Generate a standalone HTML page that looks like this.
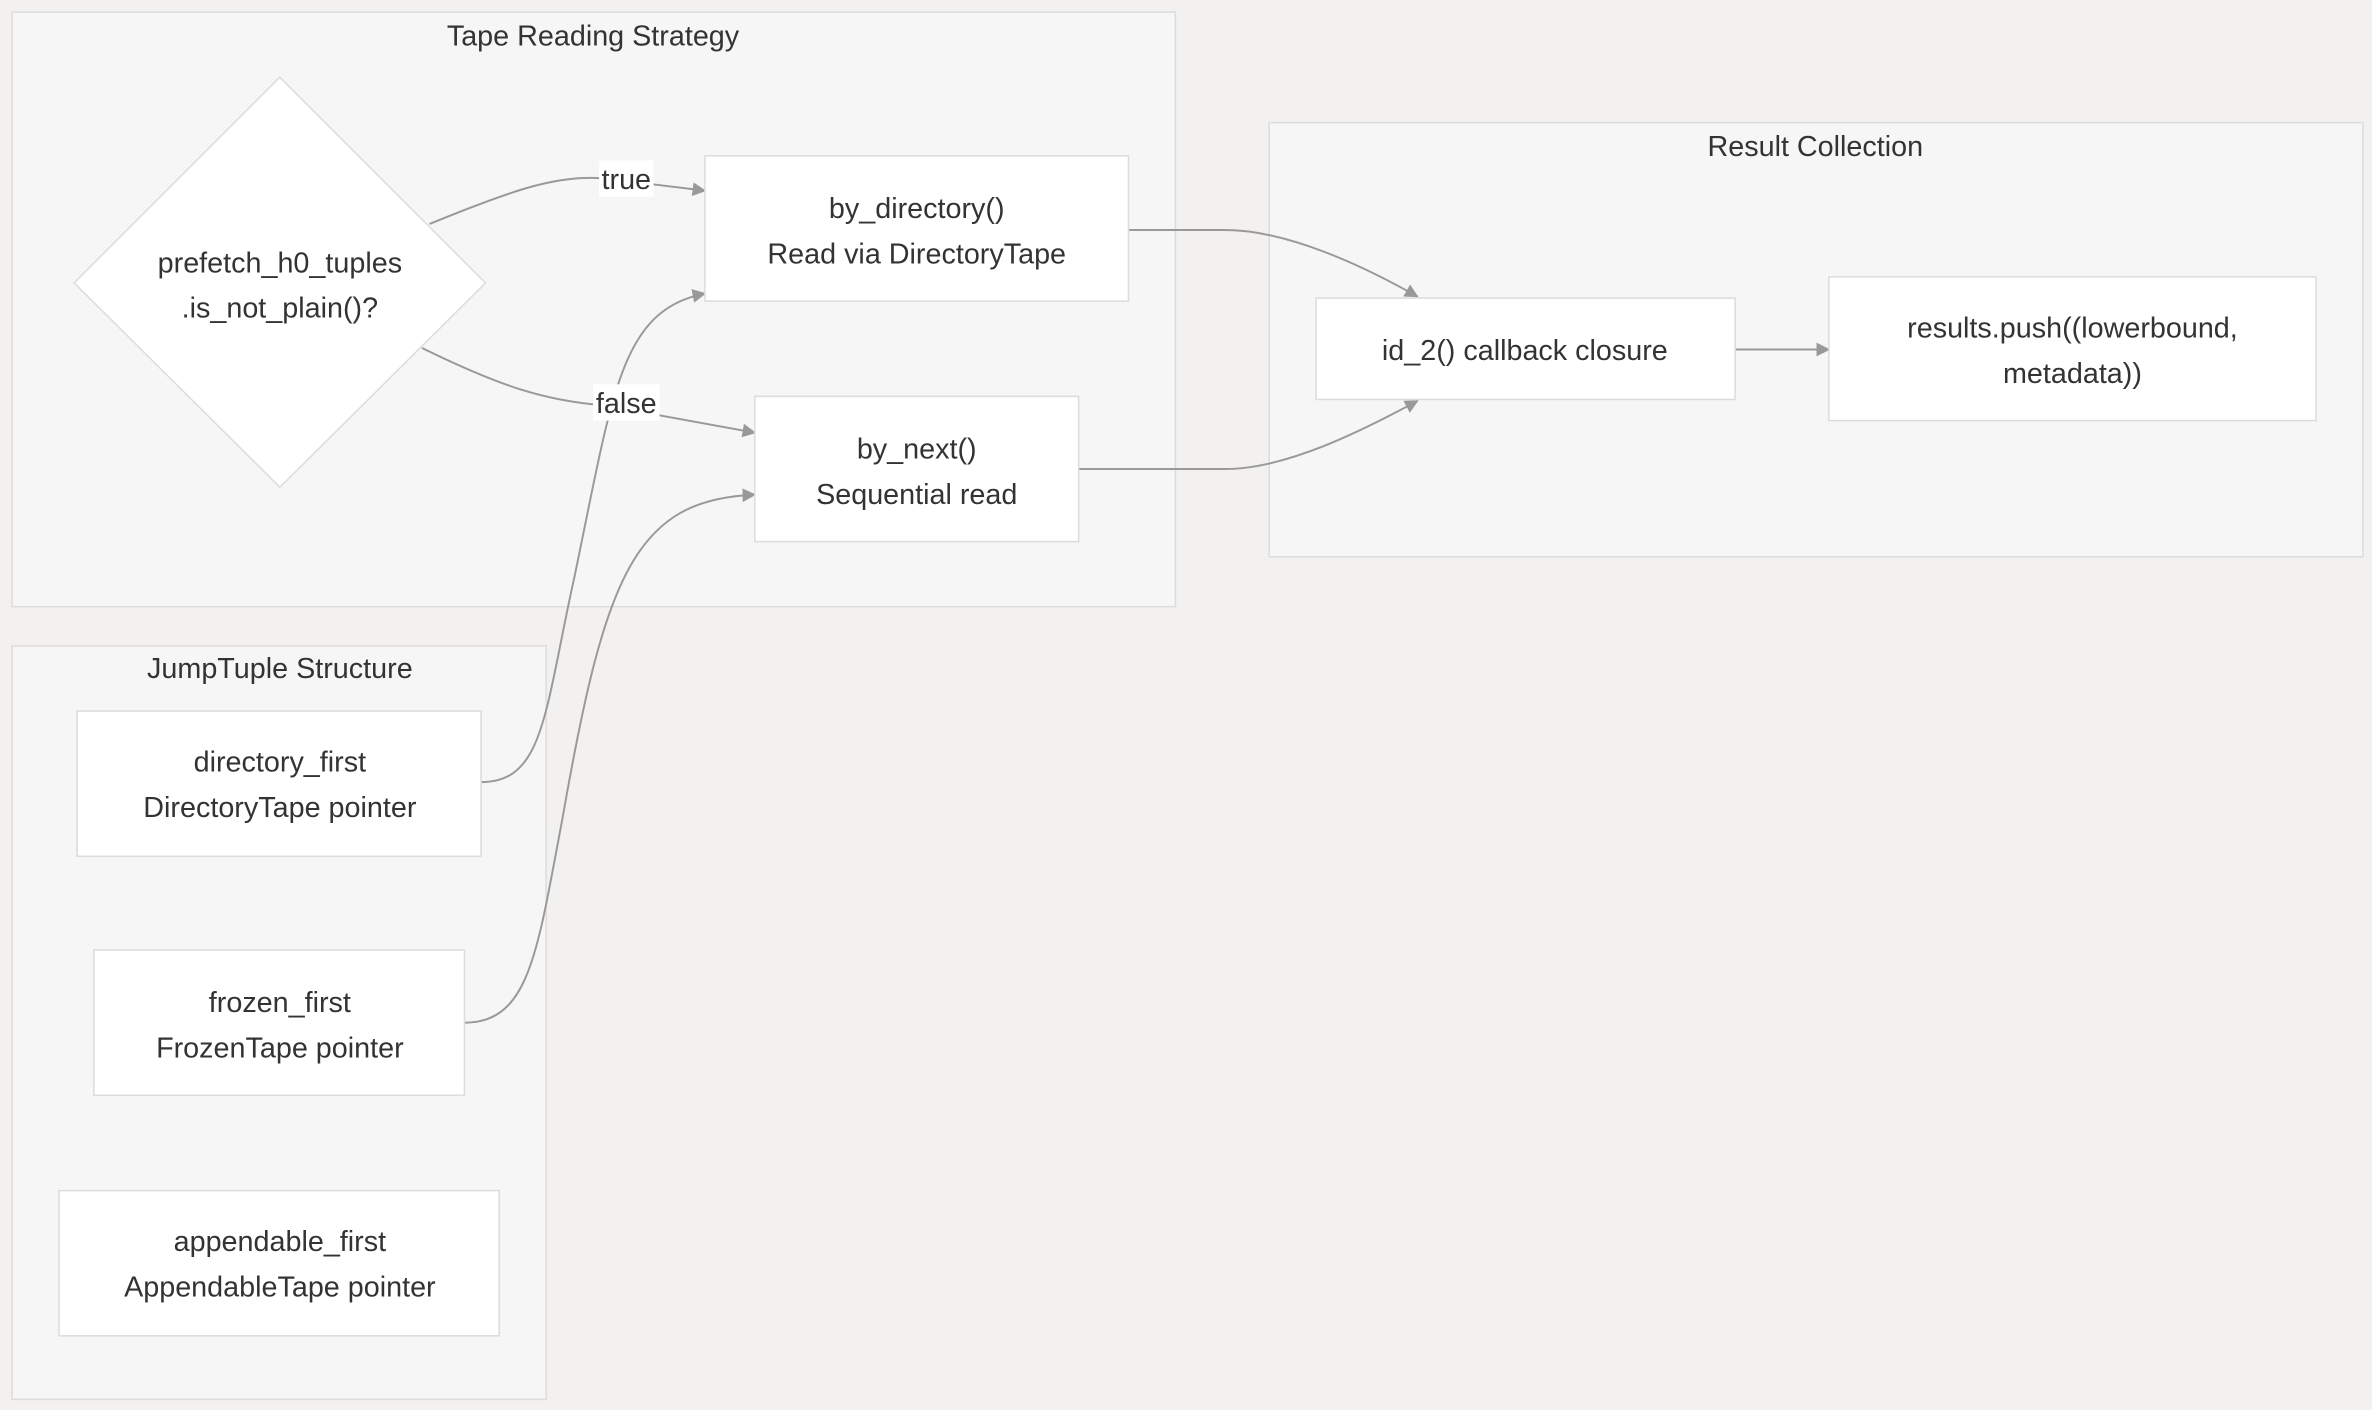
<!DOCTYPE html>
<html><head><meta charset="utf-8"><style>
html,body{margin:0;padding:0;background:#f2f1ef;}
svg{display:block;}
text{font-family:"Liberation Sans",sans-serif;fill:#333;}
</style></head><body>
<svg width="2372" height="1410" viewBox="0 0 1568 932" xmlns="http://www.w3.org/2000/svg">
<defs>
<marker id="a" viewBox="0 0 10 10" refX="9" refY="5" markerWidth="7" markerHeight="7" orient="auto"><path d="M0,0 L10,5 L0,10 z" fill="#999"/></marker>
</defs>
<rect x="0" y="0" width="1568" height="932" fill="#f2f1ef"/>
<g fill="#f6f6f6" stroke="#dcdcdc" stroke-width="1">
<rect x="8" y="8" width="769" height="393"/>
<rect x="839" y="81" width="723" height="287"/>
<rect x="8" y="427" width="353" height="498"/>
</g>
<g font-size="19" text-anchor="middle">
<text x="392" y="30">Tape Reading Strategy</text>
<text x="1200" y="103">Result Collection</text>
<text x="185" y="448">JumpTuple Structure</text>
</g>
<g fill="none" stroke="#999" stroke-width="1.3">
<path d="M284,148 C340,125 370,115 400,118 L466,126" marker-end="url(#a)"/>
<path d="M279,230 C330,255 360,265 400,268 L499,286" marker-end="url(#a)"/>
<path d="M318,517 C360,517 360,470 380,380 C405,260 410,205 466,194" marker-end="url(#a)"/>
<path d="M307,676 C350,676 355,630 372,540 C400,380 420,330 499,327" marker-end="url(#a)"/>
<path d="M746,152 L810,152 C850,152 900,175 937,196" marker-end="url(#a)"/>
<path d="M713,310 L810,310 C850,310 900,285 937,265" marker-end="url(#a)"/>
<path d="M1147,231 L1209,231" marker-end="url(#a)"/>
</g>
<g fill="#fff" stroke="#dcdcdc" stroke-width="1">
<path d="M185,51 L321,187 L185,322 L49,187 z"/>
<rect x="466" y="103" width="280" height="96"/>
<rect x="499" y="262" width="214" height="96"/>
<rect x="870" y="197" width="277" height="67"/>
<rect x="1209" y="183" width="322" height="95"/>
<rect x="51" y="470" width="267" height="96"/>
<rect x="62" y="628" width="245" height="96"/>
<rect x="39" y="787" width="291" height="96"/>
</g>
<rect x="396" y="106" width="36" height="24" fill="#fff"/>
<rect x="392" y="254" width="44" height="24" fill="#fff"/>
<g font-size="19" text-anchor="middle">
<text x="414" y="125">true</text>
<text x="414" y="273">false</text>
<text x="185" y="180">prefetch_h0_tuples</text>
<text x="185" y="210">.is_not_plain()?</text>
<text x="606" y="144">by_directory()</text>
<text x="606" y="174">Read via DirectoryTape</text>
<text x="606" y="303">by_next()</text>
<text x="606" y="333">Sequential read</text>
<text x="1008" y="238">id_2() callback closure</text>
<text x="1370" y="223">results.push((lowerbound,</text>
<text x="1370" y="253">metadata))</text>
<text x="185" y="510">directory_first</text>
<text x="185" y="540">DirectoryTape pointer</text>
<text x="185" y="669">frozen_first</text>
<text x="185" y="699">FrozenTape pointer</text>
<text x="185" y="827">appendable_first</text>
<text x="185" y="857">AppendableTape pointer</text>
</g>
</svg>
</body></html>
